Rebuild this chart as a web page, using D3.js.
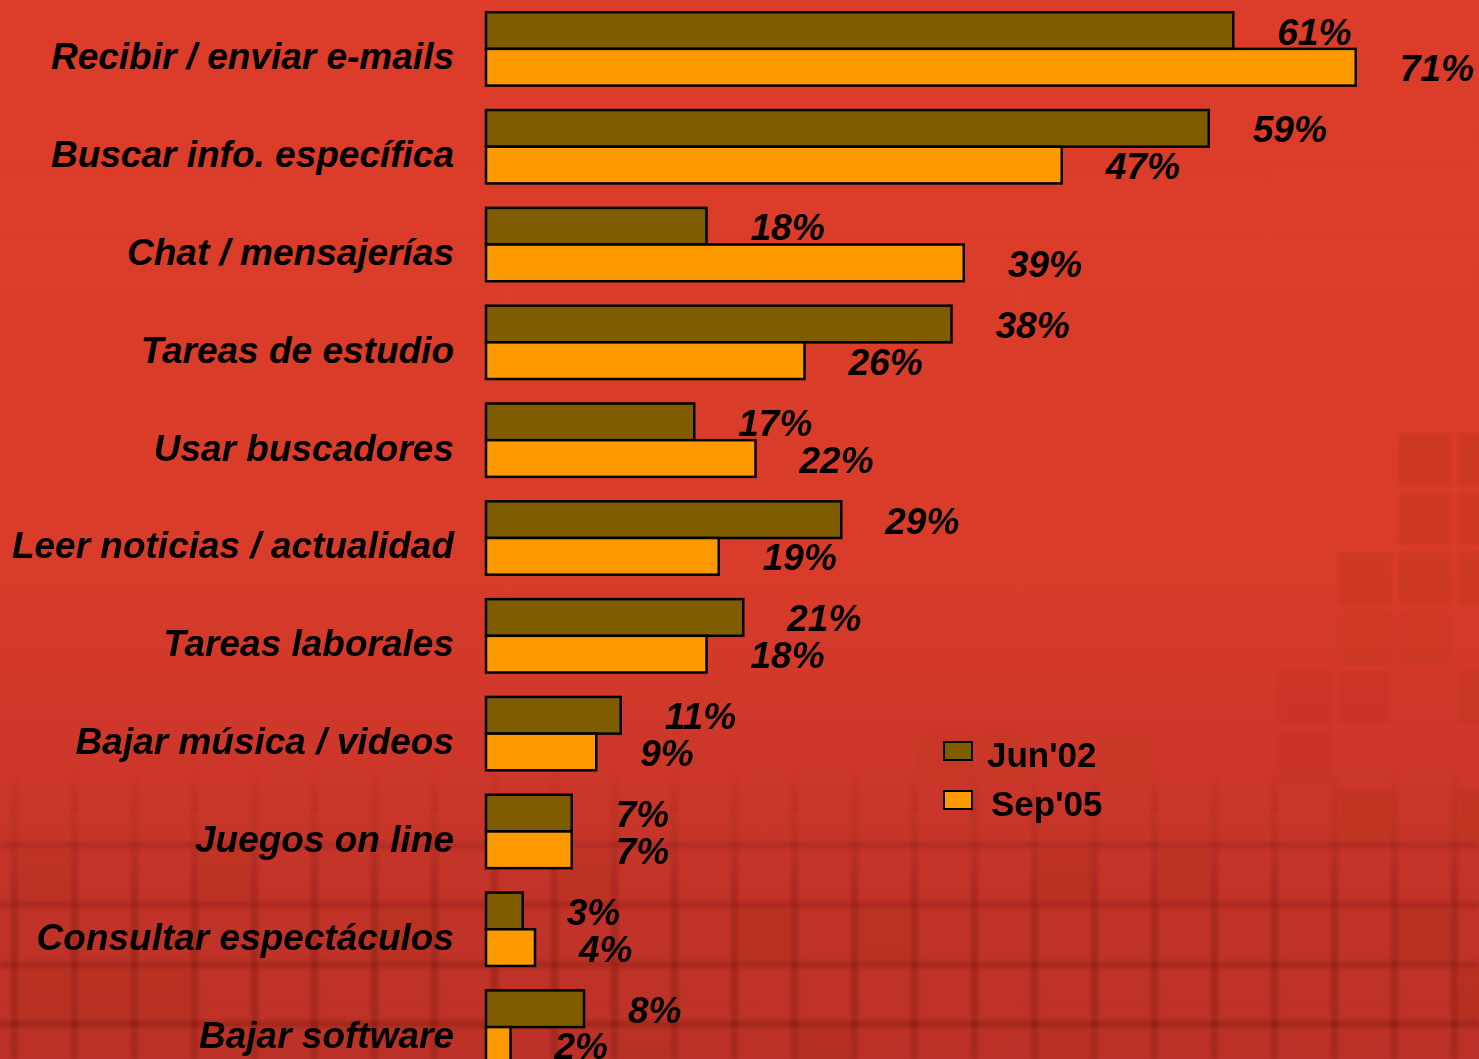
<!DOCTYPE html>
<html>
<head>
<meta charset="utf-8">
<script src="https://cdn.jsdelivr.net/npm/d3@7"></script>
<style>
  html, body { margin: 0; padding: 0; background: #DC3D2B; overflow: hidden; }
  svg { display: block; }
  text { font-family: "Liberation Sans", Arial, Helvetica, sans-serif; }
</style>
</head>
<body>
<svg id="chart" width="1479" height="1059"></svg>
<script>
// ---- data ----
const categories = [
  "Recibir / enviar e-mails",
  "Buscar info. específica",
  "Chat / mensajerías",
  "Tareas de estudio",
  "Usar buscadores",
  "Leer noticias / actualidad",
  "Tareas laborales",
  "Bajar música / videos",
  "Juegos on line",
  "Consultar espectáculos",
  "Bajar software"
];
const seriesNames = ["Jun'02", "Sep'05"];
const jun02 = [61, 59, 18, 38, 17, 29, 21, 11, 7, 3, 8];
const sep05 = [71, 47, 39, 26, 22, 19, 18, 9, 7, 4, 2];
const colors = ["#7F5C00", "#FF9900"];

const W = 1479, H = 1059;
const svg = d3.select("#chart");

// ---- background ----
const defs = svg.append("defs");
const bg = defs.append("linearGradient").attr("id", "bg")
  .attr("x1", 0).attr("y1", 0).attr("x2", 0).attr("y2", 1);
[[0, "#DC3D2B"], [0.5, "#DA3C2A"], [0.72, "#CC372A"], [0.85, "#C13328"], [1, "#BC3127"]]
  .forEach(([o, c]) => bg.append("stop").attr("offset", o).attr("stop-color", c));
svg.append("rect").attr("width", W).attr("height", H).attr("fill", "url(#bg)");

const blur = defs.append("filter").attr("id", "soft");
blur.append("feGaussianBlur").attr("stdDeviation", 1.6);

const lineGrad = defs.append("linearGradient").attr("id", "lineGrad")
  .attr("gradientUnits", "userSpaceOnUse")
  .attr("x1", 0).attr("y1", 770).attr("x2", 0).attr("y2", 920);
lineGrad.append("stop").attr("offset", 0).attr("stop-color", "#8E1E14").attr("stop-opacity", 0);
lineGrad.append("stop").attr("offset", 1).attr("stop-color", "#8E1E14").attr("stop-opacity", 0.5);

const deco = svg.append("g").attr("class", "deco").attr("filter", "url(#soft)");
const period = 60, x0 = 15;
const nCols = Math.ceil(W / period) + 1;
// vertical grid lines (lower band)
d3.range(nCols).forEach(i => {
  deco.append("rect").attr("x", x0 + i * period - 4).attr("y", 770)
    .attr("width", 7).attr("height", H - 770).attr("fill", "url(#lineGrad)");
});
// horizontal grid lines
d3.range(4).forEach(j => {
  const yy = 846 + j * 59.5;
  deco.append("rect").attr("x", 0).attr("y", yy - 4).attr("width", W).attr("height", 7)
    .attr("fill", "#8E1E14").attr("opacity", 0.3 + j * 0.08);
});
// darker cells scattered (decoration)
const darkCells = [
  [23, -7, 0.4], [24, -7, 0.4], [23, -6, 0.35], [24, -6, 0.35], [22, -5, 0.3], [23, -5, 0.3], [24, -5, 0.3],
  [22, -4, 0.2], [23, -4, 0.2], [21, -3, 0.15], [22, -3, 0.15], [24, -3, 0.25],
  [15, -2, 0.2], [16, -2, 0.2], [18, -2, 0.2], [21, -2, 0.15], [22, -1, 0.3], [24, -1, 0.3],
  [17, 0, 0.35], [19, 0, 0.3], [12, 1, 0.35], [14, 1, 0.3], [23, 1, 0.35],
  [6, 1, 0.25], [0, 2, 0.3], [1, 2, 0.3], [2, 2, 0.3], [24, 2, 0.4], [13, 3, 0.35], [17, 3, 0.3],
  [0, 0, 0.25], [3, 0, 0.25], [9, 0, 0.25], [10, 3, 0.2]
];
darkCells.forEach(([c, r, o]) => {
  deco.append("rect")
    .attr("x", x0 + c * period + 4).attr("y", 850 + r * 59.5)
    .attr("width", period - 8).attr("height", 52)
    .attr("fill", "#9A2418").attr("opacity", o * 0.5);
});

// ---- scales ----
const y = d3.scaleBand().domain(categories).range([0, 1076]).paddingInner(0.25).paddingOuter(0.125);
const ySub = d3.scaleBand().domain(seriesNames).range([0, y.bandwidth()]);
const x = d3.scaleLinear().domain([0, 100]).range([486, 1711]);

const rows = categories.map((c, i) => ({ cat: c, vals: [jun02[i], sep05[i]] }));

const g = svg.append("g");
const groups = g.selectAll("g.row").data(rows).join("g")
  .attr("class", "row")
  .attr("transform", d => `translate(0,${y(d.cat)})`);

groups.selectAll("rect.bar").data(d => d.vals.map((v, k) => ({ v, k }))).join("rect")
  .attr("class", "bar")
  .attr("x", x(0))
  .attr("y", d => ySub(seriesNames[d.k]))
  .attr("width", d => x(d.v) - x(0))
  .attr("height", ySub.bandwidth())
  .attr("fill", d => colors[d.k])
  .attr("stroke", "#000")
  .attr("stroke-width", 2.5);

groups.selectAll("text.val").data(d => d.vals.map((v, k) => ({ v, k }))).join("text")
  .attr("class", "val")
  .attr("x", d => x(d.v) + 44)
  .attr("y", d => ySub(seriesNames[d.k]) + ySub.bandwidth() / 2 + 14)
  .attr("font-size", 37)
  .attr("font-weight", "bold")
  .attr("font-style", "italic")
  .attr("fill", "#000")
  .text(d => d.v + "%");

// category labels
groups.append("text")
  .attr("x", 454)
  .attr("y", y.bandwidth() / 2 + 20.5)
  .attr("text-anchor", "end")
  .attr("font-size", 37)
  .attr("font-weight", "bold")
  .attr("font-style", "italic")
  .attr("fill", "#000")
  .text(d => d.cat);

// ---- legend ----
const legend = svg.append("g").attr("transform", "translate(944,742)");
const legendItems = legend.selectAll("g").data(seriesNames).join("g")
  .attr("transform", (d, i) => `translate(0,${i * 49})`);
legendItems.append("rect")
  .attr("width", 28).attr("height", 18)
  .attr("fill", (d, i) => colors[i])
  .attr("stroke", "#000").attr("stroke-width", 2);
legendItems.append("text")
  .attr("x", (d, i) => i === 0 ? 43 : 47)
  .attr("y", 25)
  .attr("font-size", 35)
  .attr("font-weight", "bold")
  .attr("fill", "#000")
  .text(d => d);
</script>
</body>
</html>
